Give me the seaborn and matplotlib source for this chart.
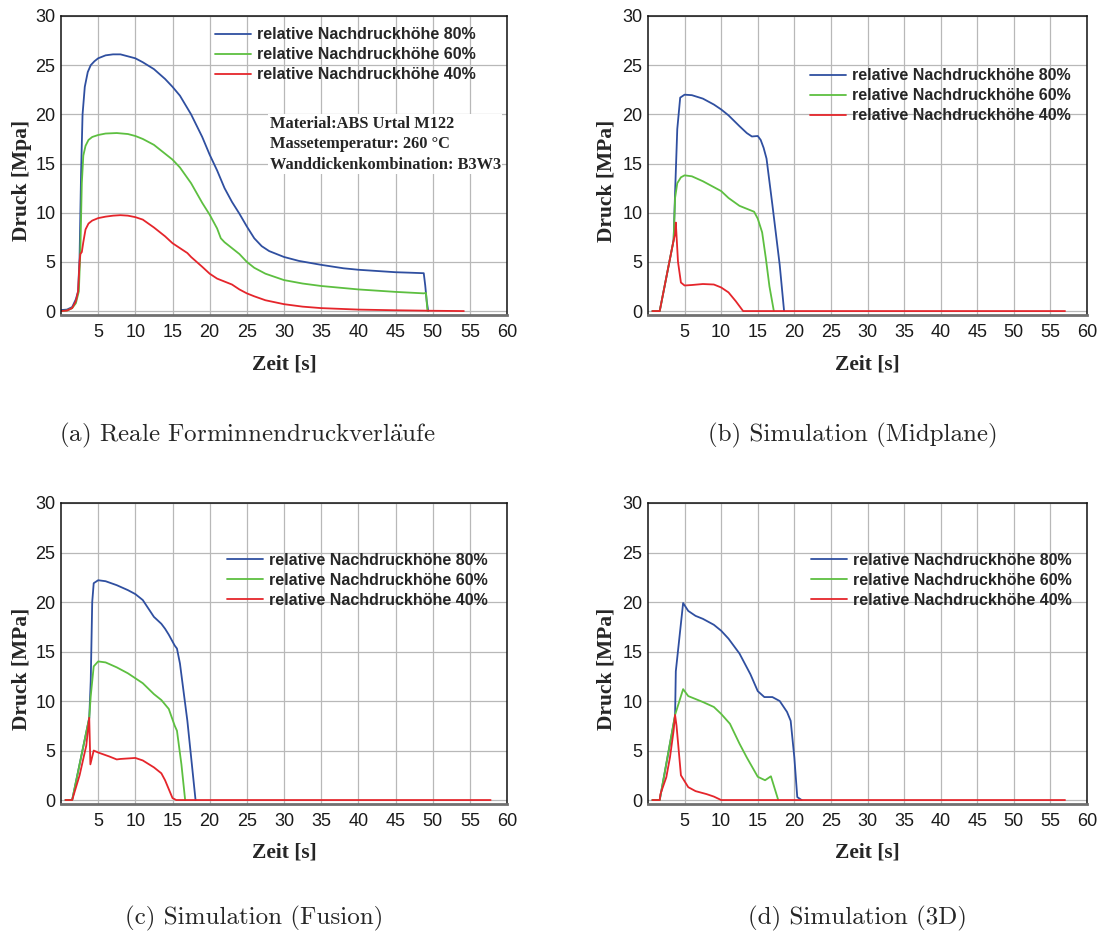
import matplotlib
matplotlib.use("Agg")
import matplotlib.pyplot as plt
import seaborn as sns
import pandas as pd

# ---------------- data ----------------
series_labels = ["relative Nachdruckhöhe 80%", "relative Nachdruckhöhe 60%", "relative Nachdruckhöhe 40%"]
captions = [r"(a) Reale Forminnendruckverl$\ddot{\mathrm{a}}$ufe", "(b) Simulation (Midplane)",
            "(c) Simulation (Fusion)", "(d) Simulation (3D)"]
ylabels = ["Druck [Mpa]", "Druck [MPa]", "Druck [MPa]", "Druck [MPa]"]
xlabel = "Zeit [s]"
x_ticks = [5, 10, 15, 20, 25, 30, 35, 40, 45, 50, 55, 60]
y_ticks = [0, 5, 10, 15, 20, 25, 30]
info_text = ["Material:ABS Urtal M122", "Massetemperatur: 260 °C", "Wanddickenkombination: B3W3"]

# (a) real measurements
a_t80 = [0, 0.8, 1.5, 2.0, 2.3, 2.5, 2.7, 2.9, 3.2, 3.6, 4.0, 4.5, 5, 6, 7, 7.5, 8, 9, 10, 11, 12.5, 14, 15, 16,
         17.5, 19, 20, 21, 22, 23, 24, 25, 26, 27, 28, 29, 30, 32, 35, 38, 40, 42, 45, 47, 48.8, 49.0, 49.2, 49.4]
a_p80 = [0.1, 0.15, 0.4, 1.2, 2.0, 5.5, 14, 20, 22.8, 24.3, 25.0, 25.4, 25.7, 26.0, 26.1, 26.1, 26.1, 25.9, 25.7,
         25.3, 24.6, 23.6, 22.8, 21.9, 20.0, 17.7, 15.9, 14.3, 12.5, 11.1, 9.9, 8.6, 7.4, 6.6, 6.1, 5.8, 5.5, 5.1,
         4.7, 4.35, 4.2, 4.1, 3.95, 3.9, 3.85, 2.6, 1.0, 0.0]
a_t60 = [0, 0.8, 1.5, 2.0, 2.4, 2.6, 2.8, 3.0, 3.3, 3.7, 4.2, 5, 6, 7.5, 9, 10, 11, 12.5, 14, 15, 16, 17.5, 19, 20,
         21, 21.5, 22, 23, 24, 25, 26, 27.5, 30, 32.5, 35, 40, 45, 48.8, 49.1, 49.3]
a_p60 = [0.0, 0.05, 0.3, 0.8, 2.0, 6, 13, 15.8, 16.8, 17.4, 17.7, 17.9, 18.05, 18.1, 18.0, 17.8, 17.5, 16.9, 16.0,
         15.4, 14.6, 13.0, 11.0, 9.8, 8.4, 7.4, 7.0, 6.4, 5.8, 5.0, 4.4, 3.8, 3.15, 2.8, 2.55, 2.2, 1.95, 1.8, 1.85, 0.0]
a_t40 = [0, 0.8, 1.5, 2.0, 2.3, 2.5, 2.6, 2.8, 3.0, 3.3, 3.7, 4.2, 5, 6, 7, 8, 9, 10, 11, 12.5, 14, 15, 16, 17,
         17.5, 19, 20, 21, 22, 23, 24, 25, 26, 27.5, 30, 32.5, 35, 40, 45, 50, 54.2]
a_p40 = [0.0, 0.05, 0.3, 1.0, 2.0, 5.0, 5.8, 6.0, 7.0, 8.3, 8.9, 9.2, 9.45, 9.6, 9.7, 9.75, 9.7, 9.55, 9.3, 8.5,
         7.6, 6.9, 6.4, 5.9, 5.5, 4.5, 3.8, 3.3, 3.0, 2.7, 2.2, 1.8, 1.5, 1.1, 0.7, 0.45, 0.3, 0.15, 0.08, 0.03, 0.0]

# (b) Midplane
b_t80 = [0.6, 1.6, 3.5, 3.7, 4.0, 4.4, 5.0, 6.0, 7.5, 9, 10, 11, 12.5, 13.5, 14.2, 15.0, 15.4, 15.8, 16.2, 17.0, 18.0, 18.6]
b_p80 = [0, 0, 7.2, 12, 18.5, 21.7, 22.0, 21.95, 21.6, 21.0, 20.5, 19.9, 18.8, 18.1, 17.75, 17.8, 17.4, 16.6, 15.5, 10.8, 4.7, 0.0]
b_t60 = [0.6, 1.6, 3.5, 3.7, 4.0, 4.5, 5.0, 6.0, 7.5, 9, 10, 11, 12.5, 13.5, 14.5, 15.0, 15.6, 16.1, 16.6, 17.2]
b_p60 = [0, 0, 7.2, 11.5, 13.0, 13.6, 13.8, 13.7, 13.2, 12.6, 12.2, 11.5, 10.7, 10.4, 10.1, 9.4, 8.0, 5.4, 2.5, 0.0]
b_t40 = [0.6, 1.6, 3.5, 3.7, 3.8, 4.1, 4.5, 5.0, 6.0, 7.5, 9.0, 10.0, 11.0, 12.0, 13.0, 57]
b_p40 = [0, 0, 7.2, 7.8, 9.0, 5.0, 2.9, 2.6, 2.65, 2.75, 2.7, 2.4, 1.9, 1.0, 0.0, 0.0]

# (c) Fusion
c_t80 = [0.6, 1.5, 3.8, 4.0, 4.2, 4.4, 5.0, 6.0, 7.5, 9, 10, 11, 12.5, 13.5, 14.0, 14.5, 15.3, 15.6, 16.0, 17.0, 18.1]
c_p80 = [0, 0, 8.3, 12, 20, 21.9, 22.2, 22.1, 21.7, 21.2, 20.8, 20.2, 18.5, 17.8, 17.3, 16.7, 15.6, 15.3, 13.8, 8.0, 0.0]
c_t60 = [0.6, 1.5, 3.8, 4.0, 4.4, 5.0, 6.0, 7.5, 9, 10, 11, 12.5, 13.5, 14.5, 15.3, 15.6, 16.2, 16.7]
c_p60 = [0, 0, 8.3, 10.5, 13.5, 14.0, 13.9, 13.4, 12.8, 12.3, 11.8, 10.7, 10.1, 9.2, 7.5, 7.0, 3.6, 0.0]
c_t40 = [0.6, 1.5, 2.5, 3.4, 3.8, 3.95, 4.4, 5.0, 6.5, 7.5, 8.0, 9.0, 10.0, 11.0, 12.5, 13.5, 14.0, 14.5, 15.0, 15.5, 57.8]
c_p40 = [0, 0, 2.5, 5.5, 8.3, 3.6, 5.0, 4.8, 4.4, 4.1, 4.15, 4.2, 4.25, 4.0, 3.3, 2.7, 2.0, 1.1, 0.2, 0.0, 0.0]

# (d) 3D
d_t80 = [0.6, 1.6, 3.7, 3.8, 4.8, 5.5, 6.5, 7.5, 9, 10, 11, 12.5, 14, 15, 15.9, 17, 18, 19, 19.5, 20, 20.4, 21]
d_p80 = [0, 0, 8.5, 13, 19.9, 19.1, 18.6, 18.3, 17.7, 17.1, 16.3, 14.8, 12.7, 11.0, 10.4, 10.4, 10.0, 8.9, 8.0, 4.3, 0.3, 0.0]
d_t60 = [0.6, 1.6, 3.7, 4.8, 5.5, 7.5, 9, 10, 11.2, 12.5, 13.5, 14.5, 15, 16, 16.8, 17.8]
d_p60 = [0, 0, 8.6, 11.2, 10.5, 9.9, 9.4, 8.7, 7.7, 5.7, 4.3, 3.0, 2.35, 2.0, 2.4, 0.0]
d_t40 = [0.6, 1.6, 1.7, 2.5, 3.0, 3.5, 3.7, 3.9, 4.5, 5.5, 6.5, 8.0, 9.0, 10.0, 57]
d_p40 = [0, 0, 0.6, 2.3, 4.3, 7.0, 8.6, 7.5, 2.5, 1.3, 0.9, 0.6, 0.35, 0.0, 0.0]

panels = [
    [(a_t80, a_p80), (a_t60, a_p60), (a_t40, a_p40)],
    [(b_t80, b_p80), (b_t60, b_p60), (b_t40, b_p40)],
    [(c_t80, c_p80), (c_t60, c_p60), (c_t40, c_p40)],
    [(d_t80, d_p80), (d_t60, d_p60), (d_t40, d_p40)],
]

colors = ["#2f4fa0", "#5dbf40", "#e5252b"]

# ---------------- layout ----------------
sns.set_style("whitegrid")
plt.rcParams["font.family"] = ["Liberation Sans", "DejaVu Sans"]
plt.rcParams["mathtext.fontset"] = "cm"

W, H = 1111, 934
fig = plt.figure(figsize=(W / 100, H / 100), dpi=100)

# axes boxes in pixel coords: (left, top, right, bottom)
boxes = [(61, 16, 507, 315), (648, 16, 1087, 315), (61, 503, 507, 804), (648, 503, 1087, 804)]
legend_anchor = [(0.345, 0.962), (0.37, 0.825), (0.372, 0.835), (0.372, 0.835)]
caption_pos = [(247, 435), (853, 435), (254, 918), (857, 918)]
ylabel_x = [22, 607, 22, 607]
serif_bold = {"family": ["Liberation Serif", "DejaVu Serif"], "weight": "bold"}

for i, (box, series) in enumerate(zip(boxes, panels)):
    l, t, r, b = box
    ax = fig.add_axes([l / W, 1 - b / H, (r - l) / W, (b - t) / H])
    frames = []
    for lab, (tt, pp) in zip(series_labels, series):
        frames.append(pd.DataFrame({"Zeit": tt, "Druck": pp, "Serie": lab}))
    df = pd.concat(frames, ignore_index=True)
    sns.lineplot(data=df, x="Zeit", y="Druck", hue="Serie", hue_order=series_labels,
                 palette=colors, estimator=None, sort=False, lw=1.3, ax=ax, legend=False)
    ax.set_xlim(0, 60)
    ax.set_ylim(-0.4, 30)
    ax.set_xticks(x_ticks)
    ax.set_yticks(y_ticks)
    ax.grid(True, color="#b8b8b8", lw=0.9)
    ax.tick_params(length=0, labelsize=13, colors="#1a1a1a")
    ax.tick_params(axis="y", pad=4)
    ax.tick_params(axis="x", pad=6.5)
    for s in ["left", "top", "right"]:
        ax.spines[s].set_color("#111111")
        ax.spines[s].set_linewidth(1.1)
    ax.spines["bottom"].set_color("#707070")
    ax.spines["bottom"].set_linewidth(2.0)
    ax.set_xlabel("")
    ax.set_ylabel("")
    ax.legend(handles=ax.lines[:3], labels=series_labels, loc="upper left",
              bbox_to_anchor=legend_anchor[i], frameon=False, borderpad=0, borderaxespad=0,
              handlelength=2.25, handletextpad=0.38, labelspacing=0.31,
              prop={"family": ["Liberation Sans"], "weight": "bold", "size": 11.5})
    # axis labels
    fig.text(((l + r) / 2) / W, 1 - (b + 49) / H, xlabel, ha="center", va="center",
             fontsize=15.5, **serif_bold)
    fig.text(ylabel_x[i] / W, 1 - ((t + b) / 2 + 15) / H, ylabels[i], ha="center", va="center",
             rotation=90, fontsize=15.5, **serif_bold)
    cx, cy = caption_pos[i]
    fig.text(cx / W, 1 - cy / H, captions[i], ha="center", va="center", fontsize=18,
             family=["cmr10", "DejaVu Serif"])
    if i == 0:
        ax.text(0.468, 0.667, "\n".join(info_text), transform=ax.transAxes, ha="left", va="top",
                fontsize=11.8, linespacing=1.4,
                bbox=dict(facecolor="white", edgecolor="none", pad=1), **serif_bold)

fig.savefig("out.png", dpi=100)
